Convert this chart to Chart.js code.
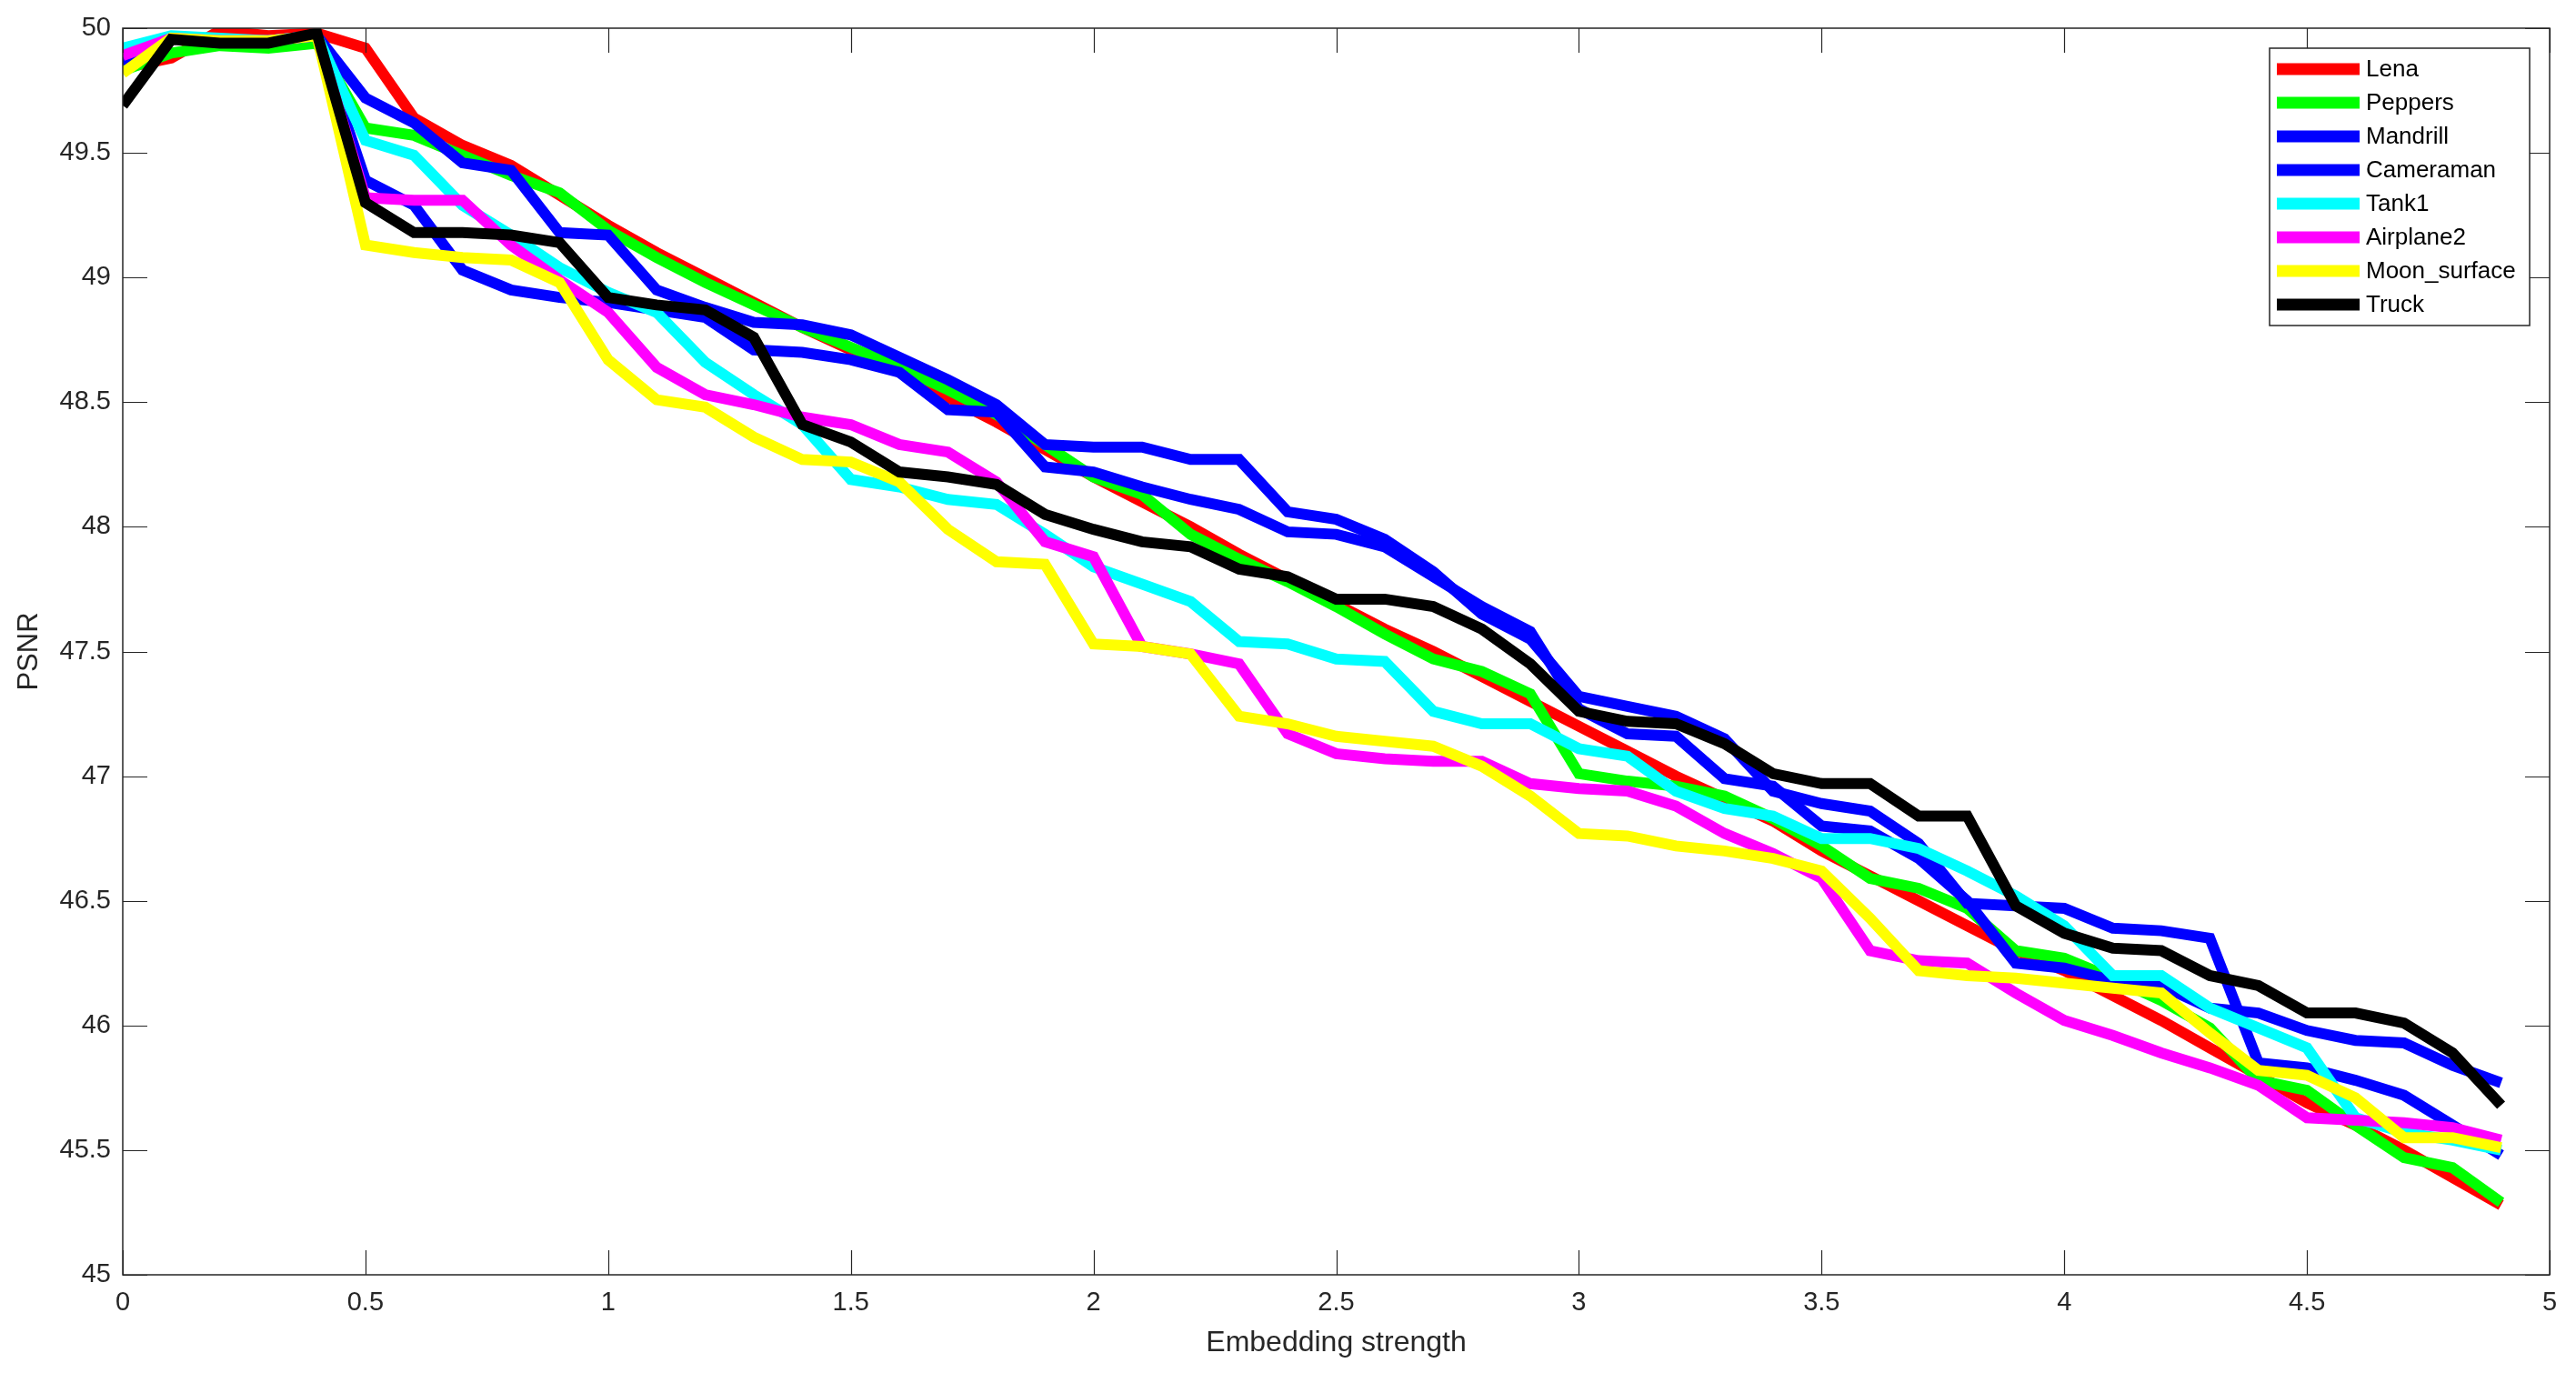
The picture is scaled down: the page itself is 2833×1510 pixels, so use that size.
<!DOCTYPE html>
<html>
<head>
<meta charset="utf-8">
<title>PSNR vs embedding strength</title>
<script src="https://cdn.jsdelivr.net/npm/chart.js@4.4.1/dist/chart.umd.min.js"></script>
<style>
  html, body { margin: 0; padding: 0; background: #fff; }
  canvas { display: block; }
</style>
</head>
<body>
<canvas id="psnr" width="2833" height="1510"></canvas>
<script>
const strength = [0, 0.1, 0.2, 0.3, 0.4, 0.5, 0.6, 0.7, 0.8, 0.9,
  1, 1.1, 1.2, 1.3, 1.4, 1.5, 1.6, 1.7, 1.8, 1.9,
  2, 2.1, 2.2, 2.3, 2.4, 2.5, 2.6, 2.7, 2.8, 2.9,
  3, 3.1, 3.2, 3.3, 3.4, 3.5, 3.6, 3.7, 3.8, 3.9,
  4, 4.1, 4.2, 4.3, 4.4, 4.5, 4.6, 4.7, 4.8, 4.9]

const lena = [49.84, 49.88, 49.99, 49.97, 49.98, 49.92, 49.64, 49.53, 49.45, 49.33,
  49.21, 49.1, 49.0, 48.9, 48.8, 48.71, 48.62, 48.52, 48.42, 48.31,
  48.2, 48.1, 48.0, 47.89, 47.79, 47.69, 47.59, 47.5, 47.4, 47.3,
  47.2, 47.1, 47.0, 46.91, 46.82, 46.7, 46.6, 46.5, 46.4, 46.3,
  46.22, 46.12, 46.02, 45.91, 45.8, 45.69, 45.6, 45.5, 45.39, 45.28]

const peppers = [49.83, 49.9, 49.93, 49.92, 49.94, 49.6, 49.57, 49.49, 49.41, 49.34,
  49.19, 49.08, 48.98, 48.89, 48.8, 48.72, 48.64, 48.55, 48.45, 48.33,
  48.2, 48.13, 47.97, 47.87, 47.78, 47.68, 47.57, 47.47, 47.42, 47.33,
  47.01, 46.98, 46.96, 46.92, 46.83, 46.72, 46.59, 46.55, 46.47, 46.3,
  46.27, 46.19, 46.1, 45.99, 45.78, 45.74, 45.6, 45.47, 45.43, 45.29]

const mandrill = [49.86, 49.96, 49.95, 49.95, 49.97, 49.72, 49.62, 49.46, 49.43, 49.18,
  49.17, 48.95, 48.88, 48.82, 48.81, 48.77, 48.68, 48.59, 48.49, 48.33,
  48.32, 48.32, 48.27, 48.27, 48.06, 48.03, 47.95, 47.82, 47.65, 47.55,
  47.32, 47.28, 47.24, 47.15, 46.94, 46.89, 46.86, 46.73, 46.49, 46.48,
  46.47, 46.39, 46.38, 46.35, 45.85, 45.83, 45.78, 45.72, 45.6, 45.48]

const cameraman = [49.86, 49.96, 49.95, 49.95, 49.97, 49.39, 49.29, 49.03, 48.95, 48.92,
  48.9, 48.87, 48.84, 48.71, 48.7, 48.67, 48.62, 48.47, 48.46, 48.24,
  48.22, 48.16, 48.11, 48.07, 47.98, 47.97, 47.92, 47.8, 47.68, 47.58,
  47.27, 47.17, 47.16, 46.99, 46.96, 46.8, 46.78, 46.67, 46.5, 46.25,
  46.23, 46.18, 46.16, 46.07, 46.05, 45.98, 45.94, 45.93, 45.84, 45.77]

const tank1 = [49.92, 49.97, 49.96, 49.95, 49.97, 49.55, 49.49, 49.29, 49.17, 49.04,
  48.94, 48.86, 48.66, 48.53, 48.41, 48.19, 48.16, 48.11, 48.09, 47.97,
  47.84, 47.77, 47.7, 47.54, 47.53, 47.47, 47.46, 47.26, 47.21, 47.21,
  47.11, 47.08, 46.94, 46.87, 46.84, 46.75, 46.75, 46.71, 46.62, 46.52,
  46.4, 46.2, 46.2, 46.07, 45.99, 45.91, 45.63, 45.57, 45.54, 45.5]

const airplane2 = [49.89, 49.96, 49.95, 49.95, 49.97, 49.32, 49.31, 49.31, 49.13, 48.99,
  48.86, 48.64, 48.53, 48.49, 48.44, 48.41, 48.33, 48.3, 48.18, 47.94,
  47.88, 47.52, 47.49, 47.45, 47.17, 47.09, 47.07, 47.06, 47.06, 46.97,
  46.95, 46.94, 46.88, 46.77, 46.69, 46.59, 46.3, 46.26, 46.25, 46.13,
  46.02, 45.96, 45.89, 45.83, 45.76, 45.63, 45.62, 45.61, 45.59, 45.54]

const moonSurface = [49.82, 49.96, 49.95, 49.95, 49.97, 49.13, 49.1, 49.08, 49.07, 48.98,
  48.67, 48.51, 48.48, 48.36, 48.27, 48.26, 48.18, 47.99, 47.86, 47.85,
  47.53, 47.52, 47.49, 47.24, 47.21, 47.16, 47.14, 47.12, 47.04, 46.92,
  46.77, 46.76, 46.72, 46.7, 46.67, 46.62, 46.43, 46.22, 46.2, 46.19,
  46.17, 46.15, 46.13, 45.97, 45.82, 45.8, 45.71, 45.55, 45.55, 45.51]

const truck = [49.69, 49.955, 49.94, 49.94, 49.98, 49.3, 49.18, 49.18, 49.17, 49.14,
  48.92, 48.89, 48.87, 48.76, 48.41, 48.34, 48.22, 48.2, 48.17, 48.05,
  47.99, 47.94, 47.92, 47.83, 47.8, 47.71, 47.71, 47.68, 47.59, 47.45,
  47.26, 47.22, 47.21, 47.13, 47.01, 46.97, 46.97, 46.84, 46.84, 46.48,
  46.37, 46.31, 46.3, 46.2, 46.16, 46.05, 46.05, 46.01, 45.89, 45.68]

const names = ['Lena', 'Peppers', 'Mandrill', 'Cameraman', 'Tank1', 'Airplane2', 'Moon_surface', 'Truck']
const colors = ['#ff0000', '#00ff00', '#0000ff', '#0000ff', '#00ffff', '#ff00ff', '#ffff00', '#000000']
const series = [lena, peppers, mandrill, cameraman, tank1, airplane2, moonSurface, truck]

const ink = '#262626'
const font = 'Liberation Sans'

// tick text like matlab: 50, 49.5, 0, 0.5, 1 ...
const tickText = v => String(Number(v.toFixed(2)))

// matlab style frame: box all round, ticks pointing inward
const matlabBox = {
  id: 'matlabBox',
  afterDatasetsDraw(chart) {
    const {ctx, chartArea: a, scales: {x, y}} = chart
    ctx.save()
    ctx.strokeStyle = ink
    ctx.lineWidth = 1.5
    ctx.strokeRect(a.left, a.top, a.right - a.left, a.bottom - a.top)
    ctx.beginPath()
    x.ticks.forEach(t => {
      const px = Math.round(x.getPixelForValue(t.value)) + 0.5
      ctx.moveTo(px, a.bottom); ctx.lineTo(px, a.bottom - 27)
      ctx.moveTo(px, a.top); ctx.lineTo(px, a.top + 27)
    })
    y.ticks.forEach(t => {
      const py = Math.round(y.getPixelForValue(t.value)) + 0.5
      ctx.moveTo(a.left, py); ctx.lineTo(a.left + 27, py)
      ctx.moveTo(a.right, py); ctx.lineTo(a.right - 27, py)
    })
    ctx.lineWidth = 1.2
    ctx.stroke()
    ctx.restore()
  }
}

// legend box inside the plot, top right, in dataset order
const boxLegend = {
  id: 'boxLegend',
  afterDraw(chart) {
    const {ctx, chartArea: a} = chart
    const w = 286, h = 305
    const x0 = a.right - 22 - w, y0 = a.top + 22
    ctx.save()
    ctx.fillStyle = '#fff'
    ctx.fillRect(x0, y0, w, h)
    ctx.strokeStyle = ink
    ctx.lineWidth = 1.5
    ctx.strokeRect(x0, y0, w, h)
    ctx.font = '26px "' + font + '"'
    ctx.textBaseline = 'middle'
    chart.data.datasets.forEach((ds, i) => {
      const yy = y0 + 23 + i * 37
      ctx.strokeStyle = ds.borderColor
      ctx.lineWidth = 13
      ctx.beginPath()
      ctx.moveTo(x0 + 8, yy)
      ctx.lineTo(x0 + 99, yy)
      ctx.stroke()
      ctx.fillStyle = '#000'
      ctx.fillText(ds.label, x0 + 106, yy + 1)
    })
    ctx.restore()
  }
}

const datasets = series.map((values, i) => ({
  label: names[i],
  data: strength.map((s, j) => ({x: s, y: values[j]})),
  borderColor: colors[i],
  backgroundColor: colors[i],
  borderWidth: 12,
  pointRadius: 0,
  tension: 0,
  fill: false,
  clip: 0,
  order: series.length - i   // later series on top, like matlab
}))

new Chart(document.getElementById('psnr'), {
  type: 'line',
  data: {datasets: datasets},
  options: {
    responsive: false,
    animation: false,
    devicePixelRatio: 1,
    layout: {padding: {top: 31, right: 29, left: 0, bottom: 0}},
    plugins: {
      legend: {display: false},
      tooltip: {enabled: false}
    },
    scales: {
      x: {
        type: 'linear',
        min: 0,
        max: 5,
        afterFit: s => { s.height = 108 },
        grid: {display: false, drawTicks: false},
        border: {display: false},
        ticks: {stepSize: 0.5, color: ink, padding: 14, font: {family: font, size: 29}, callback: tickText},
        title: {display: true, text: 'Embedding strength', color: ink, padding: {top: 0, bottom: 14}, font: {family: font, size: 32}}
      },
      y: {
        min: 45,
        max: 50,
        afterFit: s => { s.width = 135 },
        grid: {display: false, drawTicks: false},
        border: {display: false},
        ticks: {stepSize: 0.5, color: ink, padding: 13, font: {family: font, size: 29}, callback: tickText},
        title: {display: true, text: 'PSNR', color: ink, padding: {top: 14, bottom: 0}, font: {family: font, size: 31}}
      }
    }
  },
  plugins: [matlabBox, boxLegend]
})
</script>
</body>
</html>
